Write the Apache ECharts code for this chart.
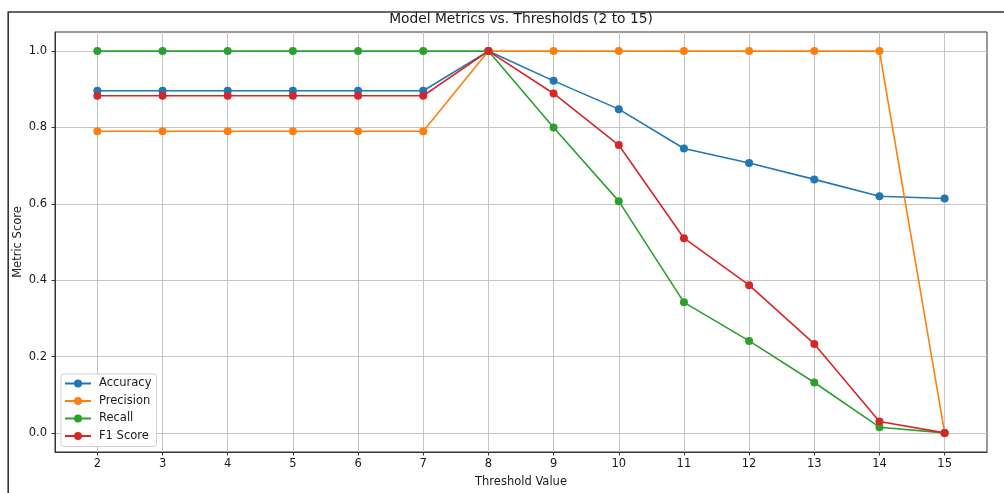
<!DOCTYPE html>
<html>
<head>
<meta charset="utf-8">
<script src="https://cdn.jsdelivr.net/npm/echarts@6/dist/echarts.min.js"></script>
<style>
  html, body { margin: 0; padding: 0; background: #fff; }
  #chart { width: 1004px; height: 493px; }
</style>
</head>
<body>
<div id="chart"></div>
<script>
// thresholds on the x axis
const thresholds = [2, 3, 4, 5, 6, 7, 8, 9, 10, 11, 12, 13, 14, 15];

// metric values
const accuracy = [0.896, 0.896, 0.896, 0.896, 0.896, 0.896, 1.0, 0.922, 0.848, 0.745, 0.707, 0.664, 0.620, 0.614];
const precision = [0.790, 0.790, 0.790, 0.790, 0.790, 0.790, 1.0, 1.0, 1.0, 1.0, 1.0, 1.0, 1.0, 0.0];
const recall = [1.0, 1.0, 1.0, 1.0, 1.0, 1.0, 1.0, 0.800, 0.607, 0.342, 0.241, 0.132, 0.015, 0.0];
const f1 = [0.883, 0.883, 0.883, 0.883, 0.883, 0.883, 1.0, 0.889, 0.754, 0.510, 0.387, 0.233, 0.030, 0.0];

const yTicks = [0, 0.2, 0.4, 0.6, 0.8, 1.0];

const FONT = 'DejaVu Sans';
const TEXT = '#1a1a1a';

const chart = echarts.init(document.getElementById('chart'), null, { renderer: 'canvas' });

const mkSeries = (name, values, color) => ({
  name: name,
  type: 'line',
  data: thresholds.map((t, i) => [t, values[i]]),
  symbol: 'circle',
  symbolSize: 8,
  showAllSymbol: true,
  lineStyle: { color: color, width: 1.6 },
  itemStyle: { color: color },
  emphasis: { disabled: true },
});

const option = {
  animation: false,
  backgroundColor: '#fff',
  textStyle: { fontFamily: FONT },
  title: {
    text: 'Model Metrics vs. Thresholds (2 to 15)',
    left: 521,
    top: 12,
    padding: 0,
    textAlign: 'center',
    textStyle: { fontFamily: FONT, fontSize: 13.8, fontWeight: 'normal', color: TEXT },
  },
  // figure frame (cropped on the right and bottom in the reference)
  graphic: [
    {
      type: 'rect',
      shape: { x: 8.2, y: 12, width: 1200, height: 700 },
      style: { fill: null, stroke: '#333', lineWidth: 1.6 },
      silent: true,
    },
  ],
  legend: {
    orient: 'vertical',
    left: 61,
    top: 374,
    padding: [3, 5, 4, 3],
    itemWidth: 26,
    itemHeight: 10,
    itemGap: 4.5,
    backgroundColor: 'rgba(255,255,255,0.85)',
    borderColor: '#d0d0d0',
    borderWidth: 1,
    borderRadius: 3,
    textStyle: { fontFamily: FONT, fontSize: 11.5, color: TEXT, lineHeight: 13, padding: [0, 0, 0, 3] },
    data: ['Accuracy', 'Precision', 'Recall', 'F1 Score'],
  },
  grid: {
    left: 55,
    right: 17,
    top: 32,
    bottom: 41,
    show: true,
    borderColor: '#333',
    borderWidth: 1,
    backgroundColor: 'transparent',
  },
  xAxis: {
    type: 'value',
    min: 1.35,
    max: 15.65,
    name: 'Threshold Value',
    nameLocation: 'middle',
    nameGap: 24,
    nameMoveOverlap: false,
    nameTextStyle: { fontFamily: FONT, fontSize: 11.5, color: TEXT },
    axisLine: { show: true, onZero: false, lineStyle: { color: '#333', width: 1 } },
    axisTick: { show: true, customValues: thresholds, length: 3.5, lineStyle: { color: '#333' } },
    axisLabel: {
      customValues: thresholds,
      margin: 6,
      fontFamily: FONT,
      fontSize: 11.5,
      color: TEXT,
    },
    splitLine: { show: true, lineStyle: { color: '#c4c4c4', width: 1 } },
  },
  yAxis: {
    type: 'value',
    min: -0.05,
    max: 1.05,
    name: 'Metric Score',
    nameLocation: 'middle',
    nameRotate: 90,
    nameGap: 31,
    nameMoveOverlap: false,
    nameTextStyle: { fontFamily: FONT, fontSize: 11.5, color: TEXT },
    axisLine: { show: true, onZero: false, lineStyle: { color: '#333', width: 1 } },
    axisTick: { show: true, customValues: yTicks, length: 3.5, lineStyle: { color: '#333' } },
    axisLabel: {
      customValues: yTicks,
      margin: 8,
      fontFamily: FONT,
      fontSize: 11.5,
      color: TEXT,
      formatter: (v) => v.toFixed(1),
    },
    splitLine: { show: true, lineStyle: { color: '#c4c4c4', width: 1 } },
  },
  series: [
    mkSeries('Accuracy', accuracy, '#1f77b4'),
    mkSeries('Precision', precision, '#ff7f0e'),
    mkSeries('Recall', recall, '#2ca02c'),
    mkSeries('F1 Score', f1, '#d62728'),
  ],
};

chart.setOption(option);
</script>
</body>
</html>
